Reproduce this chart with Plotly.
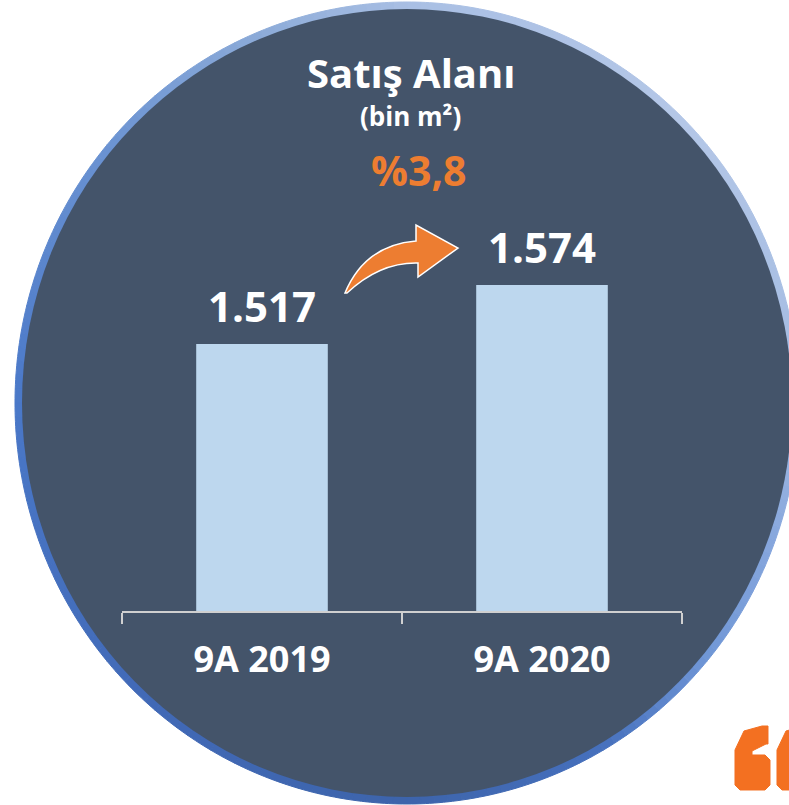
import math
import plotly.graph_objects as go

# ---------------- data ----------------
categories = ["9A 2019", "9A 2020"]
values = [1517, 1574]
value_labels = ["1.517", "1.574"]
title_text = "Satış Alanı"
unit_text = "(bin m²)"
growth_text = "%3,8"

# ---------------- geometry helpers (pixels -> paper) ----------------
W, H = 789, 805
ML, MR, MT, MB = 122, 107, 100, 194
PW, PH = W - ML - MR, H - MT - MB


def fx(x):
    return (x - ML) / PW


def fy(y):
    return (H - MB - y) / PH


def pt(x, y):
    return f"{fx(x):.5f},{fy(y):.5f}"


FILL = "#44546A"
BAR = "#BDD7EE"
ORANGE = "#ED7D31"
QUOTE = "#F37021"
AXIS = "#D0D0D0"
FONT = "Open Sans"

# border gradient colour stops by angle (deg, 0 = right, 90 = top)
stops = [
    (-90, "#3D64AB"), (-60, "#4670BD"), (-40, "#6F96D6"), (-20, "#87A7DD"),
    (0, "#A3BBE2"), (45, "#B4C7E7"), (90, "#A9BFE4"), (110, "#8FADD9"),
    (140, "#6B93D2"), (180, "#4A78C8"), (230, "#4169B6"), (270, "#3D64AB"),
]


def hex2rgb(h):
    h = h.lstrip("#")
    return [int(h[i:i + 2], 16) for i in (0, 2, 4)]


def color_at(a):
    while a < -90:
        a += 360
    while a >= 270:
        a -= 360
    for (a0, c0), (a1, c1) in zip(stops[:-1], stops[1:]):
        if a0 <= a <= a1:
            t = (a - a0) / (a1 - a0)
            r0, r1 = hex2rgb(c0), hex2rgb(c1)
            c = [round(r0[k] + (r1[k] - r0[k]) * t) for k in range(3)]
            return "rgb({},{},{})".format(*c)
    return stops[0][1]


CX, CY, A, B = 407, 403, 392, 401
shapes = []
N = 180
for i in range(N):
    a0 = 360 * i / N
    a1 = 360 * (i + 1) / N
    pts = [pt(CX, CY)]
    for k in range(4):
        a = math.radians(a0 + (a1 - a0) * k / 3)
        pts.append(pt(CX + A * math.cos(a), CY - B * math.sin(a)))
    path = "M " + " L ".join(pts) + " Z"
    col = color_at((a0 + a1) / 2)
    shapes.append(dict(type="path", xref="paper", yref="paper", path=path,
                       fillcolor=col, line=dict(color=col, width=1), layer="below"))

# inner filled disc
shapes.append(dict(type="circle", xref="paper", yref="paper",
                   x0=fx(CX - A + 7), x1=fx(CX + A - 7),
                   y0=fy(CY + B - 7), y1=fy(CY - B + 7),
                   fillcolor=FILL, line=dict(width=0), layer="below"))

# curved arrow
arrow = ("M " + pt(345, 293) + " Q " + pt(365, 245) + " " + pt(416, 241) +
         " L " + pt(416, 225) + " L " + pt(458, 248) + " L " + pt(418, 277) +
         " L " + pt(418, 263) + " Q " + pt(380, 262) + " " + pt(347, 293) + " Z")
shapes.append(dict(type="path", xref="paper", yref="paper", path=arrow,
                   fillcolor=ORANGE, line=dict(color="white", width=1.5), layer="above"))


# quote mark glyphs (decorative)
def quote_path(ox):
    p = [(740, 790), (765, 790), (770, 785), (770, 760), (765, 755), (752, 755),
         (752, 751), (766, 744), (768, 744), (768, 726), (762, 726), (744, 731),
         (735, 750), (735, 785)]
    return "M " + " L ".join(pt(x + ox, y) for x, y in p) + " Z"


for ox in (0, 42):
    shapes.append(dict(type="path", xref="paper", yref="paper", path=quote_path(ox),
                       fillcolor=QUOTE, line=dict(color=QUOTE, width=1), layer="above"))

# ---------------- figure ----------------
fig = go.Figure()
fig.add_trace(go.Bar(x=categories, y=values, width=0.47, marker_color=BAR,
                     marker_line_width=0, hoverinfo="skip"))

annotations = []
for cat, v, lab in zip(categories, values, value_labels):
    annotations.append(dict(x=cat, y=v, xref="x", yref="y", text=lab, showarrow=False,
                            yanchor="bottom", yshift=8,
                            font=dict(family=FONT, size=42, color="white", weight=700)))

annotations += [
    dict(x=fx(411), y=fy(72), xref="paper", yref="paper", text=title_text, showarrow=False,
         xanchor="center", yanchor="middle",
         font=dict(family=FONT, size=40, color="white", weight=700)),
    dict(x=fx(410), y=fy(116), xref="paper", yref="paper", text=unit_text, showarrow=False,
         xanchor="center", yanchor="middle",
         font=dict(family=FONT, size=26, color="white", weight=700)),
    dict(x=fx(419), y=fy(170), xref="paper", yref="paper", text=growth_text, showarrow=False,
         xanchor="center", yanchor="middle",
         font=dict(family=FONT, size=41, color=ORANGE, weight=700)),
]

y0 = 1259
fig.update_layout(
    width=W, height=H, autosize=False,
    margin=dict(l=ML, r=MR, t=MT, b=MB, pad=0),
    paper_bgcolor="white", plot_bgcolor="rgba(0,0,0,0)",
    showlegend=False, bargap=0.53,
    shapes=shapes, annotations=annotations,
    xaxis=dict(type="category", range=[-0.5, 1.5], showline=True, linecolor=AXIS,
               linewidth=2, ticks="outside", tickson="boundaries", ticklen=11,
               tickwidth=2, tickcolor=AXIS, showgrid=False, zeroline=False,
               ticklabelstandoff=16,
               tickfont=dict(family=FONT, size=36, color="white", weight=700),
               fixedrange=True),
    yaxis=dict(range=[y0, y0 + PH / 1.035], visible=False, showgrid=False,
               zeroline=False, fixedrange=True),
)

fig.write_html("out.html", config={"displayModeBar": False},
               post_script="document.body.style.margin='0';")
